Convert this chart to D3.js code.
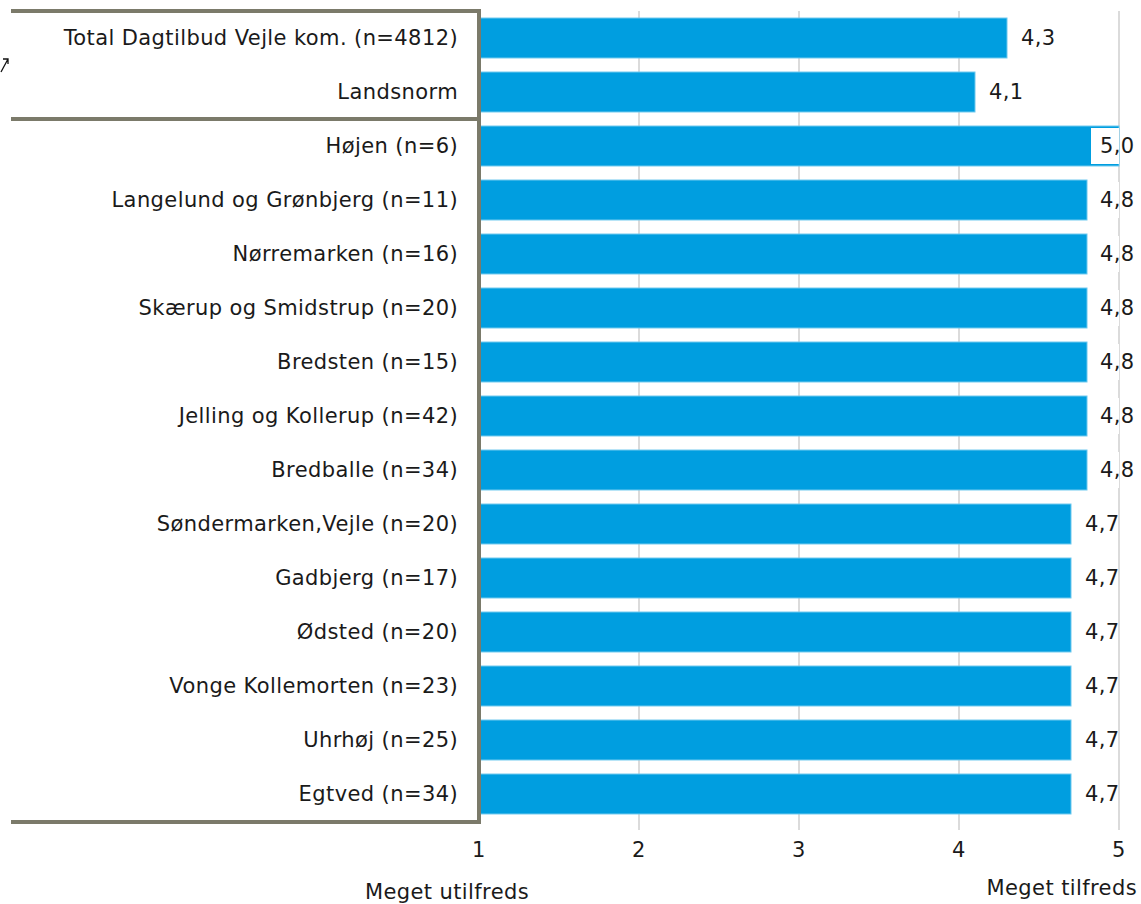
<!DOCTYPE html>
<meta charset="utf-8">
<script src="https://d3js.org/d3.v7.min.js"></script>
<style>
  body { margin: 0; background: #fff; }
  text { font-family: "DejaVu Sans", Verdana, sans-serif; fill: #1a1a1a; letter-spacing: 0.4px; }
</style>
<svg id="chart" width="1141" height="904"></svg>
<script>

// categories (top to bottom) and their mean score
var categories = [
  "Total Dagtilbud Vejle kom. (n=4812)",
  "Landsnorm",
  "Højen (n=6)",
  "Langelund og Grønbjerg (n=11)",
  "Nørremarken (n=16)",
  "Skærup og Smidstrup (n=20)",
  "Bredsten (n=15)",
  "Jelling og Kollerup (n=42)",
  "Bredballe (n=34)",
  "Søndermarken,Vejle (n=20)",
  "Gadbjerg (n=17)",
  "Ødsted (n=20)",
  "Vonge Kollemorten (n=23)",
  "Uhrhøj (n=25)",
  "Egtved (n=34)"
];
var values = [4.3, 4.1, 5.0, 4.8, 4.8, 4.8, 4.8, 4.8, 4.8, 4.7, 4.7, 4.7, 4.7, 4.7, 4.7];
var ticks = [1, 2, 3, 4, 5];
var scaleLabels = ["Meget utilfreds", "Meget tilfreds"];

var data = categories.map(function(c, i) { return {name: c, value: values[i]}; });

var svg = d3.select("#chart");
var fs = 21;

var x = d3.scaleLinear().domain([1, 5]).range([479, 1119]);
var y = d3.scaleBand()
  .domain(categories)
  .range([11, 821])
  .paddingInner(0.26)
  .paddingOuter(0.13);

var fmt = function(v) { return d3.format(".1f")(v).replace(".", ","); };

// gridlines
svg.append("g").selectAll("line")
  .data(ticks.slice(1))
  .join("line")
    .attr("x1", function(d) { return x(d); })
    .attr("x2", function(d) { return x(d); })
    .attr("y1", 11)
    .attr("y2", 830)
    .attr("stroke", "#cfcfcf")
    .attr("stroke-width", 1.5);

// bars
svg.append("g").selectAll("rect")
  .data(data)
  .join("rect")
    .attr("x", x(1))
    .attr("y", function(d) { return y(d.name); })
    .attr("width", function(d) { return x(d.value) - x(1); })
    .attr("height", y.bandwidth())
    .attr("fill", "#009ee0")
    .attr("stroke", "#6cc8ee")
    .attr("stroke-width", 1);

// value labels
var lab = svg.append("g").selectAll("g")
  .data(data)
  .join("g")
    .attr("transform", function(d) {
      var lx = Math.min(x(d.value) + 14, 1100);
      return "translate(" + lx + "," + (y(d.name) + y.bandwidth() / 2) + ")";
    });

lab.filter(function(d) { return x(d.value) + 14 > 1100; })
  .append("rect")
    .attr("x", -9)
    .attr("y", -18)
    .attr("width", x(5) - 1092 + 1)
    .attr("height", 36)
    .attr("fill", "#fff");

lab.append("text")
  .attr("dy", "0.35em")
  .attr("font-size", fs)
  .text(function(d) { return fmt(d.value); });

// category labels
svg.append("g").selectAll("text")
  .data(data)
  .join("text")
    .attr("x", 458)
    .attr("y", function(d) { return y(d.name) + y.bandwidth() / 2; })
    .attr("dy", "0.35em")
    .attr("text-anchor", "end")
    .attr("font-size", fs)
    .text(function(d) { return d.name; });

// frame around the label block
var frame = svg.append("g")
  .attr("stroke", "#7b7a6a")
  .attr("stroke-width", 4)
  .attr("fill", "none");
var splitY = (y(categories[1]) + y.bandwidth() + y(categories[2])) / 2;
frame.append("path").attr("d", "M11," + 11 + "H479V822H11");
frame.append("path").attr("d", "M11," + splitY + "H479");

// axis tick labels
svg.append("g").selectAll("text")
  .data(ticks)
  .join("text")
    .attr("x", function(d) { return x(d); })
    .attr("y", 850)
    .attr("dy", "0.35em")
    .attr("text-anchor", "middle")
    .attr("font-size", fs)
    .text(function(d) { return d; });

svg.append("text")
  .attr("x", 447).attr("y", 892).attr("dy", "0.35em")
  .attr("text-anchor", "middle").attr("font-size", fs)
  .text(scaleLabels[0]);
svg.append("text")
  .attr("x", 1137).attr("y", 888).attr("dy", "0.35em")
  .attr("text-anchor", "end").attr("font-size", fs)
  .text(scaleLabels[1]);

// small arrow mark at the left edge
svg.append("path")
  .attr("d", "M1,72 L8,59 M3,59 H8 V64")
  .attr("stroke", "#111").attr("stroke-width", 1.3).attr("fill", "none");

</script>
